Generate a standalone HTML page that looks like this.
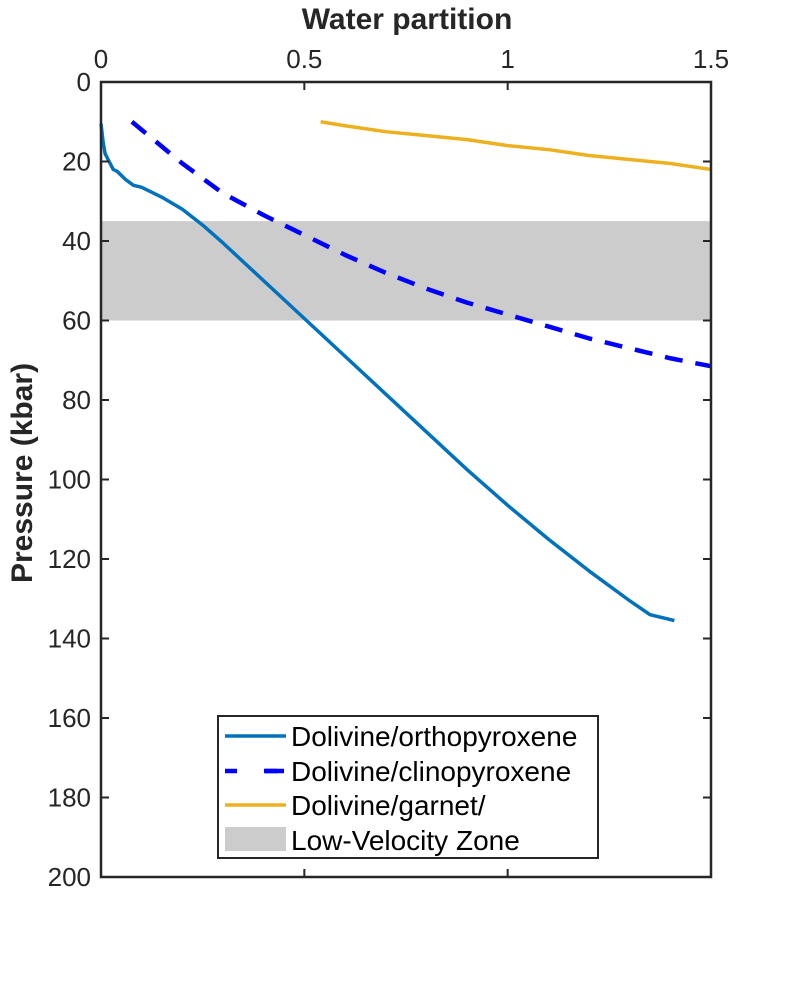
<!DOCTYPE html>
<html><head><meta charset="utf-8"><style>
html,body{margin:0;padding:0;background:#fff;}
svg{display:block;font-family:"Liberation Sans",Arial,sans-serif;}
</style></head><body>
<svg id="chart" width="788" height="984" viewBox="0 0 788 984"></svg>
<script>
const xTicks=[0,0.5,1,1.5];
const xTickLabels=["0","0.5","1","1.5"];
const yTicks=[0,20,40,60,80,100,120,140,160,180,200];
const yTickLabels=["0","20","40","60","80","100","120","140","160","180","200"];
const lvzRange=[35,60];
const opxX=[0,0.005,0.01,0.02,0.03,0.04,0.06,0.08,0.1,0.15,0.2,0.25,0.3,0.4,0.5,0.6,0.7,0.8,0.9,1.0,1.1,1.2,1.3,1.35,1.41];
const opxP=[10.5,15,18,20,22,22.5,24.5,26,26.5,29,32,36,40.5,50,59.5,69,78.5,88,97.5,106.5,115,123,130.5,134,135.5];
const cpxX=[0.076,0.2,0.3,0.4,0.5,0.6,0.7,0.8,0.9,1.0,1.1,1.2,1.3,1.4,1.5];
const cpxP=[10,20.5,28,33.5,38.5,43.5,48,52,55.5,58.5,61.5,64.5,67,69.5,71.5];
const grtX=[0.54,0.6,0.7,0.8,0.9,1.0,1.1,1.2,1.3,1.4,1.5];
const grtP=[10,11,12.5,13.5,14.5,16,17,18.5,19.5,20.5,22];

const L=101,R=711,T=82,B=877;
const sx=v=>L+(v-0)/1.5*(R-L);
const sy=v=>T+(v-0)/200*(B-T);
const NS="http://www.w3.org/2000/svg";
const svg=document.getElementById('chart');
function mk(tag,attrs,parent){const e=document.createElementNS(NS,tag);for(const k in attrs)e.setAttribute(k,attrs[k]);(parent||svg).appendChild(e);return e;}

const lvz=mk('rect',{x:L,y:sy(lvzRange[0]),width:R-L,height:sy(lvzRange[1])-sy(lvzRange[0]),fill:'#cccccc'});



function line(xs,ps,attrs){return mk('polyline',Object.assign({points:xs.map((x,i)=>sx(x)+','+sy(ps[i])).join(' '),fill:'none','stroke-linejoin':'round'},attrs));}
const l1=line(opxX,opxP,{stroke:'#0072BD','stroke-width':3.5});


const l2=line(cpxX,cpxP,{stroke:'#0000ff','stroke-width':4.5,'stroke-dasharray':'18 13'});


const l3=line(grtX,grtP,{stroke:'#EDB120','stroke-width':3.5});



const box=mk('rect',{x:L,y:T,width:R-L,height:B-T,fill:'none',stroke:'#262626','stroke-width':2.5});



xTicks.forEach((v,i)=>{
  const x=sx(v);
  const t1=mk('line',{x1:x,x2:x,y1:T,y2:T+8,stroke:'#262626','stroke-width':2});
  
  
  const t2=mk('line',{x1:x,x2:x,y1:B,y2:B-8,stroke:'#262626','stroke-width':2});
  
  
  const tx=mk('text',{x:x,y:T-14,'text-anchor':'middle','font-size':26,fill:'#262626'});
  tx.textContent=xTickLabels[i];
  
  
});
yTicks.forEach((v,i)=>{
  const y=sy(v);
  const t1=mk('line',{x1:L,x2:L+8,y1:y,y2:y,stroke:'#262626','stroke-width':2});
  
  
  const t2=mk('line',{x1:R,x2:R-8,y1:y,y2:y,stroke:'#262626','stroke-width':2});
  
  
  const ty=mk('text',{x:L-10,y:y+9,'text-anchor':'end','font-size':26,fill:'#262626'});
  ty.textContent=yTickLabels[i];
  
  
});
</script>
<svg style="position:absolute;left:0;top:0" width="788" height="984">
<text x="407" y="29" text-anchor="middle" font-size="30" font-weight="bold" fill="#262626" font-family="Liberation Sans, sans-serif">Water partition</text>
<text transform="translate(32,473) rotate(-90)" text-anchor="middle" font-size="30" font-weight="bold" fill="#262626" font-family="Liberation Sans, sans-serif">Pressure (kbar)</text>
<g font-family="Liberation Sans, sans-serif" font-size="28" fill="#000">
<rect x="218" y="716" width="380" height="142" fill="#fff" stroke="#262626" stroke-width="2"/>
<line x1="225" x2="286" y1="736" y2="736" stroke="#0072BD" stroke-width="3.5"/>
<text x="291" y="746">Dolivine/orthopyroxene</text>
<line x1="225" x2="286" y1="771" y2="771" stroke="#0000ff" stroke-width="4.5" stroke-dasharray="12 28"/>
<line x1="264" x2="284" y1="771" y2="771" stroke="#0000ff" stroke-width="4.5"/>
<text x="291" y="781">Dolivine/clinopyroxene</text>
<line x1="225" x2="286" y1="805" y2="805" stroke="#EDB120" stroke-width="3.5"/>
<text x="291" y="815">Dolivine/garnet/</text>
<rect x="225" y="827" width="61" height="24" fill="#cccccc"/>
<text x="291" y="850">Low-Velocity Zone</text>
</g>
</svg>
</body></html>
